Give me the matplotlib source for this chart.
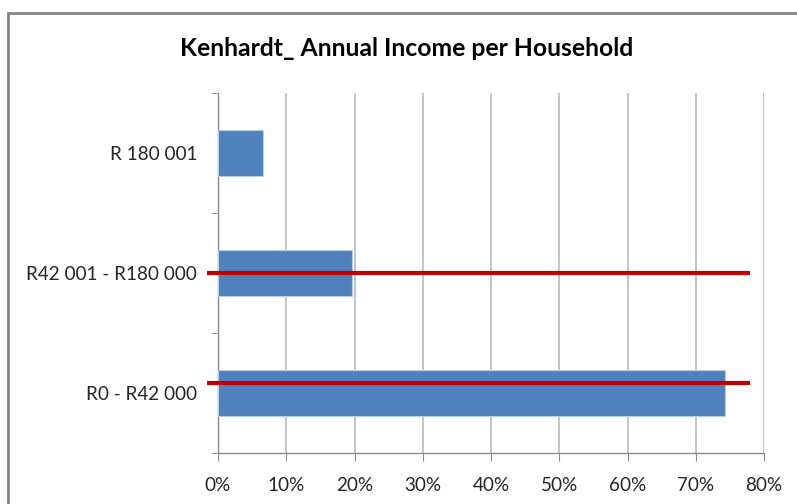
import matplotlib
matplotlib.use("Agg")
import matplotlib.pyplot as plt
from matplotlib.patches import Rectangle
from matplotlib.ticker import PercentFormatter, FixedLocator

categories = ["R0 - R42 000", "R42 001 - R180 000", "R 180 001"]
values = [0.743, 0.196, 0.066]
x_ticks = [0.0, 0.1, 0.2, 0.3, 0.4, 0.5, 0.6, 0.7, 0.8]
title = "Kenhardt_ Annual Income per Household"

# red overlay lines (category position, x start, x end)
red_line_y = [0.08, 1.0]
red_line_x0 = [-0.016, -0.016]
red_line_x1 = [0.779, 0.779]

plt.rcParams['font.family'] = ['Lato', 'DejaVu Sans']

fig = plt.figure(figsize=(7.97, 5.04), dpi=100)
fig.patch.set_facecolor("white")
fig.patches.append(Rectangle((8/797, -0.05), 1.1, 1 - 13/504 + 0.05, transform=fig.transFigure,
                             fill=False, edgecolor="#858585", linewidth=2))

ax = fig.add_axes([218/797, 1 - 453/504, (764 - 218)/797, (453 - 93)/504])
ypos = list(range(len(categories)))
ax.barh(ypos, values, height=0.39, color="#4F81BD", edgecolor="#B9CDE5", linewidth=0.8, zorder=3)

for y, x0, x1 in zip(red_line_y, red_line_x0, red_line_x1):
    ax.plot([x0, x1], [y, y], color="#C00000", linewidth=3, solid_capstyle="butt", zorder=4, clip_on=False)

ax.set_xlim(0, 0.8)
ax.set_ylim(-0.5, 2.5)
ax.set_xticks(x_ticks)
ax.xaxis.set_major_formatter(PercentFormatter(1.0, decimals=0))
ax.set_yticks(ypos)
ax.set_yticklabels(categories)
ax.yaxis.set_minor_locator(FixedLocator([-0.5, 0.5, 1.5, 2.5]))
ax.tick_params(axis="y", which="major", length=0, pad=15, labelsize=13.6, labelcolor="#262626")
ax.tick_params(axis="y", which="minor", length=5, color="#8c8c8c", direction="out")
ax.tick_params(axis="x", which="major", length=6, color="#8c8c8c", direction="out", pad=11,
               labelsize=13.6, labelcolor="#262626")

ax.grid(axis="x", color="#B4B4B4", linewidth=1.1, zorder=0)
ax.set_axisbelow(True)
for s in ["top", "right"]:
    ax.spines[s].set_visible(False)
for s in ["left", "bottom"]:
    ax.spines[s].set_color("#8c8c8c")
    ax.spines[s].set_linewidth(1)

fig.text(407/797, 1 - 48/504, title, ha="center", va="center", fontsize=17.8, fontweight="bold", color="black")

fig.savefig("out.png", dpi=100)
